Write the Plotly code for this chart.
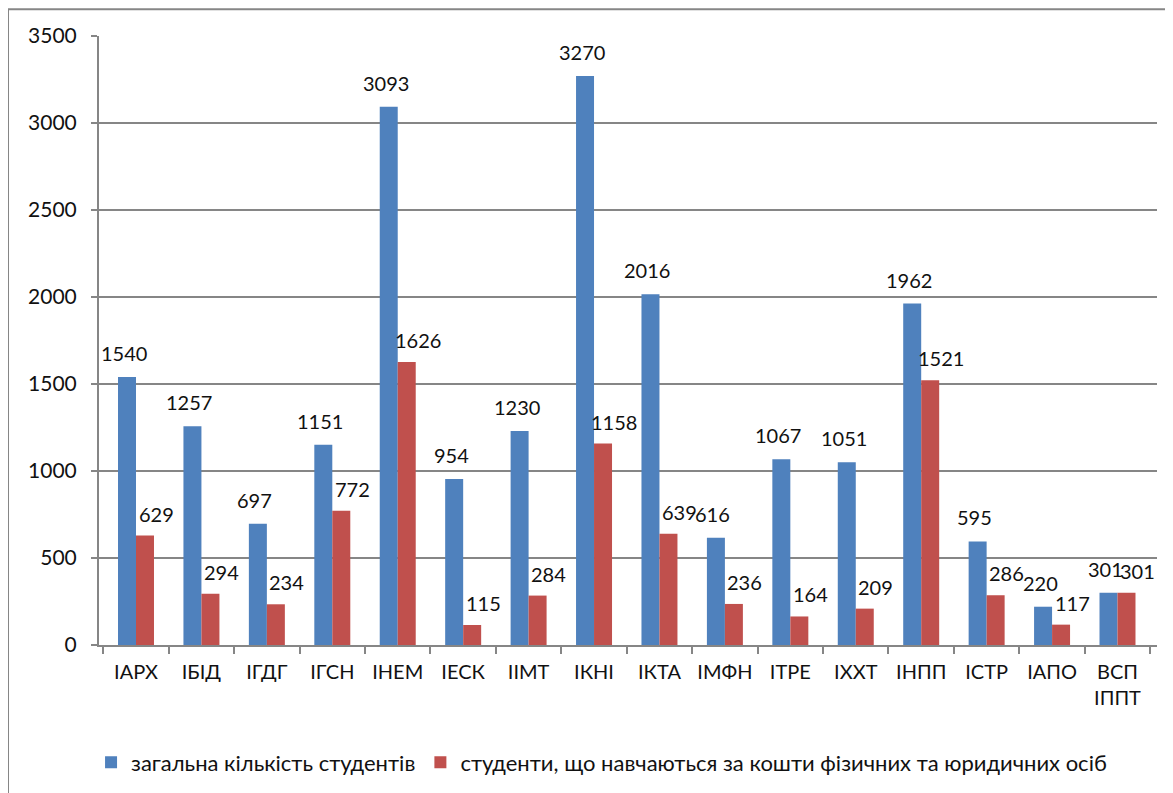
import plotly.graph_objects as go

institutes = ['ІАРХ', 'ІБІД', 'ІГДГ', 'ІГСН', 'ІНЕМ', 'ІЕСК', 'ІІМТ', 'ІКНІ',
              'ІКТА', 'ІМФН', 'ІТРЕ', 'ІХХТ', 'ІНПП', 'ІСТР', 'ІАПО', 'ВСП<br>ІППТ']
total_students = [1540, 1257, 697, 1151, 3093, 954, 1230, 3270,
                  2016, 616, 1067, 1051, 1962, 595, 220, 301]
paid_students = [629, 294, 234, 772, 1626, 115, 284, 1158,
                 639, 236, 164, 209, 1521, 286, 117, 301]

name_total = 'загальна кількість студентів'
name_paid = 'студенти, що навчаються за кошти фізичних та юридичних осіб'

blue = '#4F81BD'
red = '#C0504D'
grey = '#868686'
ink = '#111111'
font = 'Lato, Calibri, sans-serif'

fig = go.Figure()
fig.add_trace(go.Bar(x=institutes, y=total_students, name=name_total,
                     marker=dict(color=blue, line=dict(width=0))))
fig.add_trace(go.Bar(x=institutes, y=paid_students, name=name_paid,
                     marker=dict(color=red, line=dict(width=0))))

# value labels, placed above each bar like the Excel original
for cat, v in zip(institutes, total_students):
    fig.add_annotation(x=cat, y=v, text=str(v), showarrow=False,
                       xref='x', yref='y', yanchor='bottom',
                       xshift=-12, yshift=10,
                       font=dict(family=font, size=20, color=ink))
for cat, v in zip(institutes, paid_students):
    fig.add_annotation(x=cat, y=v, text=str(v), showarrow=False,
                       xref='x', yref='y', yanchor='bottom',
                       xshift=20, yshift=8,
                       font=dict(family=font, size=20, color=ink))

# outer chart frame
fig.add_shape(type='rect', xref='paper', yref='paper',
              x0=-0.086, x1=1.2, y0=-0.5, y1=1.044,
              line=dict(color=grey, width=2), fillcolor='rgba(0,0,0,0)',
              layer='below')

fig.update_layout(
    width=1173, height=793,
    margin=dict(l=91, r=24, t=28, b=156),
    paper_bgcolor='white', plot_bgcolor='white',
    barmode='group', bargap=0.45, bargroupgap=0,
    font=dict(family=font, size=20, color=ink),
    showlegend=True,
    legend=dict(orientation='h', x=0.475, xanchor='center',
                y=-0.193, yanchor='middle',
                font=dict(family=font, size=22, color=ink),
                itemwidth=30, traceorder='normal'),
)
fig.update_xaxes(showline=True, linecolor=grey, linewidth=2,
                 ticks='outside', ticklen=7, tickcolor=grey, tickwidth=2,
                 tickson='boundaries', showgrid=False,
                 ticklabelstandoff=8,
                 tickfont=dict(family=font, size=20, color=ink))
fig.update_yaxes(range=[0, 3500], dtick=500, showline=True, linecolor=grey,
                 linewidth=2, ticks='outside', ticklen=6, tickcolor=grey,
                 tickwidth=2, showgrid=True, gridcolor=grey, gridwidth=2,
                 zeroline=False, ticklabelstandoff=10,
                 tickfont=dict(family=font, size=21, color=ink))

fig.write_html("out.html")
